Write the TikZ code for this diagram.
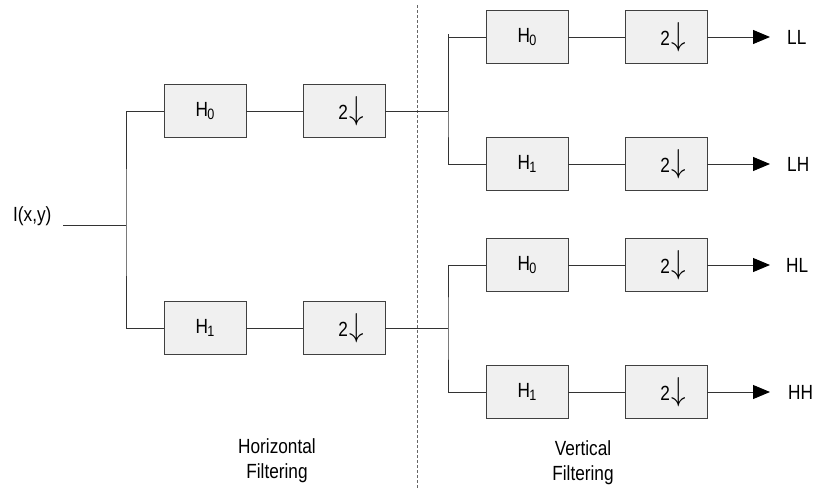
\documentclass[tikz,border=0pt]{standalone}
\usepackage{fontspec}
\setmainfont[FakeStretch=0.84]{Liberation Sans}
\usetikzlibrary{arrows.meta}
\begin{document}
\begin{tikzpicture}[x=1pt,y=-1pt,
  txt/.style={font=\fontsize{20.5}{25}\selectfont, inner sep=0pt},
  filt/.style={txt, draw=black!75, fill=black!6, line width=0.9pt,
    minimum width=82pt, minimum height=53pt},
  wire/.style={draw=black!80, line width=1pt},
  outarrow/.style={wire, -{Triangle[length=17pt,width=14pt,fill=black,color=black]}},
  divider/.style={draw=black!60, line width=0.8pt, dash pattern=on 3pt off 2pt},
]
\useasboundingbox (0,0) rectangle (817,488);
% filter and downsampler labels
\newcommand{\filtname}[1]{H\kern-0.5pt\raisebox{-3.5pt}{\fontsize{15}{15}\selectfont #1}}
\newcommand{\dsamp}{\hspace*{14pt}2\hspace{1pt}\scalebox{1.4}[1.6]{$\downarrow$}}

% separator between the two filtering stages
\coordinate (divtop) at (417,5);
\coordinate (divbot) at (417,488);
\draw[divider] (divtop) -- (divbot);

% input
\node[txt, anchor=west] (inlbl) at (13,216) {I(x,y)};
\coordinate (in) at (63,225);
\coordinate (j0) at (126,225);

% horizontal filtering stage
\node[filt] (h0a) at (205,111) {\filtname{0}};
\node[filt] (d0a) at (344,111) {\dsamp};
\node[filt] (h1a) at (205,328) {\filtname{1}};
\node[filt] (d1a) at (344,328) {\dsamp};

% vertical filtering stage
\coordinate (ja) at (448,111);
\coordinate (jatop) at (448,34);
\coordinate (jb) at (448,328);
\node[filt] (h0b) at (527,37)  {\filtname{0}};
\node[filt] (d0b) at (666,37)  {\dsamp};
\node[filt] (h1b) at (527,164) {\filtname{1}};
\node[filt] (d1b) at (666,164) {\dsamp};
\node[filt] (h0c) at (527,265) {\filtname{0}};
\node[filt] (d0c) at (666,265) {\dsamp};
\node[filt] (h1c) at (527,392) {\filtname{1}};
\node[filt] (d1c) at (666,392) {\dsamp};

% outputs
\coordinate (oll) at (770,37);
\coordinate (olh) at (770,164);
\coordinate (ohl) at (770,265);
\coordinate (ohh) at (770,392);
\node[txt, anchor=west] (ll) at (787,37)  {LL};
\node[txt, anchor=west] (lh) at (787,164) {LH};
\node[txt, anchor=west] (hl) at (786,265) {HL};
\node[txt, anchor=west] (hh) at (788,392) {HH};

% stage captions
\node[txt, align=center] (hcap) at (277,461) {Horizontal\\Filtering};
\node[txt, align=center] (vcap) at (583,463) {Vertical\\Filtering};

% wiring
\draw[wire] (in) -- (j0);
\draw[wire] (h0a.west) -| (j0) |- (h1a.west);
\draw[wire] (h0a) -- (d0a);
\draw[wire] (h1a) -- (d1a);
\draw[wire] (d0a.east) -- (ja);
\draw[wire] (d1a.east) -- (jb);
\draw[wire] (jatop) -- (ja);
\draw[wire] (h0b.west) -| (ja) |- (h1b.west);
\draw[wire] (h0c.west) -| (jb) |- (h1c.west);
\draw[wire] (h0b) -- (d0b);
\draw[wire] (h1b) -- (d1b);
\draw[wire] (h0c) -- (d0c);
\draw[wire] (h1c) -- (d1c);
\draw[outarrow] (d0b.east) -- (oll);
\draw[outarrow] (d1b.east) -- (olh);
\draw[outarrow] (d0c.east) -- (ohl);
\draw[outarrow] (d1c.east) -- (ohh);
\end{tikzpicture}
\end{document}
